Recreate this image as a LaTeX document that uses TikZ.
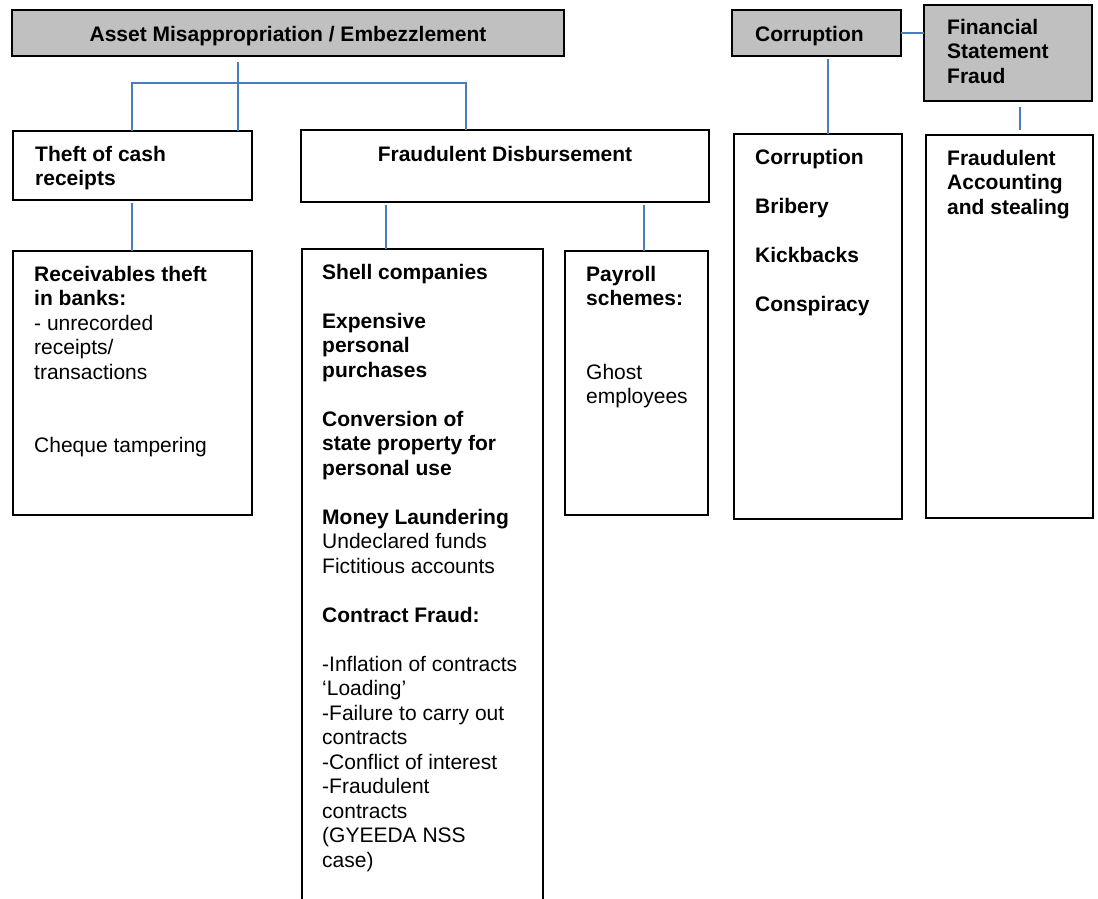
\documentclass[tikz,border=0pt]{standalone}
\usepackage{fontspec}
\setmainfont{Liberation Sans}
\definecolor{linkblue}{HTML}{4A7EBB}
\definecolor{headgrey}{HTML}{C0C0C0}
% stacked lines whose baseline is the baseline of the first line
\newcommand{\boxlines}[1]{\begin{tabular}[t]{@{}l@{}}#1\end{tabular}}

\begin{document}
\begin{tikzpicture}[x=1pt,y=-1pt,
  frame/.style={draw=black,line width=2.6pt,inner sep=0pt,outer sep=0pt,anchor=north west},
  headbox/.style={frame,fill=headgrey},
  txt/.style={inner sep=0pt,anchor=base west,font=\fontsize{21}{24.5}\selectfont},
  link/.style={draw=linkblue,line width=1.3pt}]
\clip (0,0) rectangle (1098,898);
\fill[white] (0,0) rectangle (1098,898);

% category headers
\node[headbox,minimum width=552pt,minimum height=46pt] (asset) at (12,10) {};
\node[headbox,minimum width=169pt,minimum height=46pt] (corr) at (732,10) {};
\node[headbox,minimum width=168pt,minimum height=96pt] (fin) at (924,5) {};

% second level
\node[frame,minimum width=239pt,minimum height=69pt] (theft) at (13,131) {};
\node[frame,minimum width=408pt,minimum height=72pt] (disb) at (301,130) {};

% detail boxes
\node[frame,minimum width=239pt,minimum height=264pt] (recv) at (13,251) {};
\node[frame,minimum width=241pt,minimum height=700pt] (shell) at (302,249) {};
\node[frame,minimum width=143pt,minimum height=264pt] (payroll) at (565,251) {};
\node[frame,minimum width=168pt,minimum height=385pt] (corrlist) at (734,134) {};
\node[frame,minimum width=167pt,minimum height=383pt] (fraudacc) at (926,135) {};

% connectors
\coordinate (a0) at (238,62);
\draw[link] (a0) -- (a0 |- theft.north);
\coordinate (busL) at (132,83);
\coordinate (busR) at (466,83);
\draw[link] (busL |- theft.north) -- (busL) -- (busR) -- (busR |- disb.north);
\coordinate (t0) at (132,203);
\draw[link] (t0) -- (t0 |- recv.north);
\coordinate (d0) at (386,205);
\draw[link] (d0) -- (d0 |- shell.north);
\coordinate (p0) at (644,205);
\draw[link] (p0) -- (p0 |- payroll.north);
\coordinate (c0) at (828,59);
\draw[link] (c0) -- (c0 |- corrlist.north);
\coordinate (f0) at (1020,107);
\coordinate (f1) at (1020,130);
\draw[link] (f0) -- (f1);
\draw[link] (corr.east) -- (corr.east -| fin.west);

% texts
\node[txt,anchor=base] (assettxt) at (288,41) {\textbf{Asset Misappropriation / Embezzlement}};
\node[txt] (corrtxt) at (755,41) {\textbf{Corruption}};
\node[txt] (fintxt) at (947,34) {\boxlines{\textbf{Financial}\\ \textbf{Statement}\\ \textbf{Fraud}}};
\node[txt] (thefttxt) at (35,161) {\boxlines{\textbf{Theft of cash}\\ \textbf{receipts}}};
\node[txt,anchor=base] (disbtxt) at (505,161) {\textbf{Fraudulent Disbursement}};
\node[txt] (recvtxt) at (34,281) {\boxlines{\textbf{Receivables theft}\\ \textbf{in banks:}\\ - unrecorded\\ receipts/\\ transactions\\ \\ \\ Cheque tampering}};
\node[txt] (shelltxt) at (322,279) {\boxlines{\textbf{Shell companies}\\ \\ \textbf{Expensive}\\ \textbf{personal}\\ \textbf{purchases}\\ \\ \textbf{Conversion of}\\ \textbf{state property for}\\ \textbf{personal use}\\ \\ \textbf{Money Laundering}\\ Undeclared funds\\ Fictitious accounts\\ \\ \textbf{Contract Fraud:}\\ \\ -Inflation of contracts\\ ‘Loading’\\ -Failure to carry out\\ contracts\\ -Conflict of interest\\ -Fraudulent\\ contracts\\ (GYEEDA NSS\\ case)}};
\node[txt] (payrolltxt) at (586,281) {\boxlines{\textbf{Payroll}\\ \textbf{schemes:}\\ \\ \\ Ghost\\ employees}};
\node[txt] (corrlisttxt) at (755,164) {\boxlines{\textbf{Corruption}\\ \\ \textbf{Bribery}\\ \\ \textbf{Kickbacks}\\ \\ \textbf{Conspiracy}}};
\node[txt] (fraudacctxt) at (947,165) {\boxlines{\textbf{Fraudulent}\\ \textbf{Accounting}\\ \textbf{and stealing}}};
\end{tikzpicture}
\end{document}
